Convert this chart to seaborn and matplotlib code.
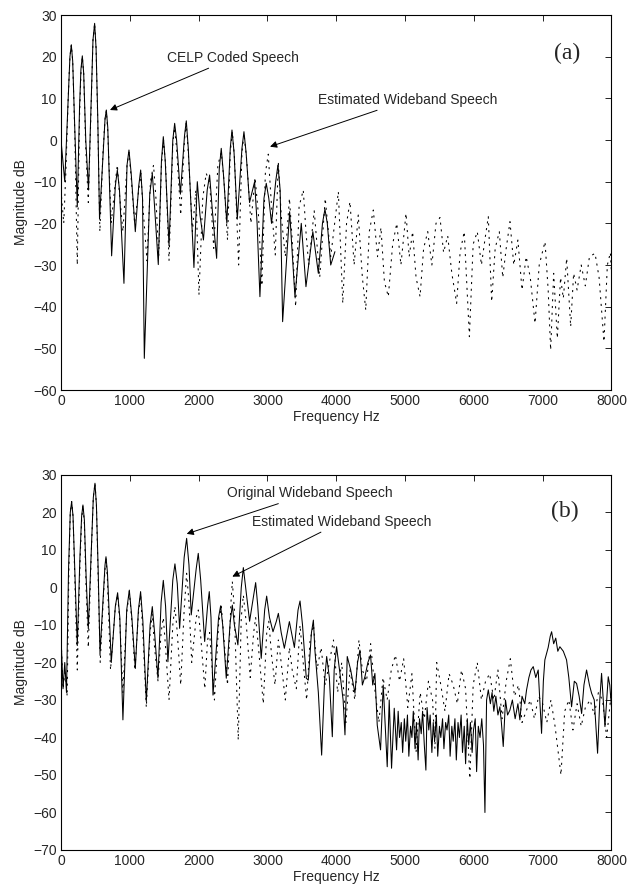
import pandas as pd
import seaborn as sns
import matplotlib.pyplot as plt

# ---- (a) CELP coded speech (solid) ----
celp_f = [0, 55, 105, 130, 150, 170, 200, 237, 270, 290, 310, 330, 360, 400, 440, 465, 489, 510, 535, 560,
          610, 640, 659, 680, 736, 790, 819, 850, 915, 960, 988, 1020, 1080, 1130, 1158, 1185, 1211, 1290,
          1327, 1360, 1414, 1460, 1487, 1515, 1570, 1625, 1652, 1680, 1735, 1795, 1821, 1850, 1932, 1981,
          2020, 2070, 2125, 2160, 2200, 2262, 2300, 2329, 2360, 2410, 2460, 2485, 2515, 2562, 2630, 2659,
          2690, 2740, 2814, 2850, 2891, 2950, 2983, 3020, 3060, 3120, 3153, 3185, 3221, 3323, 3400, 3492,
          3560, 3660, 3740, 3800, 3836, 3870, 3920, 3981]
celp_db = [0, -10, 10, 20, 22.8, 19, 3, -16, 8, 17, 20.2, 16, 0, -12, 10, 24, 28, 22, 5, -19,
           -4, 5, 7.2, 3, -27.8, -11, -7.2, -12, -34.4, -6, -2.4, -8, -22, -11, -7.2, -14, -52.4, -13,
           -8, -16, -29.9, -5, 0.8, -5, -25.4, 0, 4, 0, -13, 1, 4.6, -2, -30.6, -10,
           -18, -24, -12, -8.4, -17, -28.4, -7, -2, -8, -20, -2, 2.4, -3, -19, -2, 2,
           -3, -15, -10, -20, -37.6, -14, -10.4, -14, -20, -10, -6, -12, -43.6, -17.2, -37.6, -20,
           -35.2, -22, -32, -20, -16.6, -20, -30, -26.8]

# ---- (a) estimated wideband speech (dashed) ----
est_a_f = [0, 40, 70, 105, 130, 150, 170, 200, 237, 270, 290, 310, 330, 360, 397, 440, 465, 489, 510, 535,
           565, 610, 640, 659, 680, 730, 790, 819, 850, 900, 960, 988, 1020, 1070, 1130, 1160, 1200, 1250,
           1300, 1345, 1380, 1420, 1460, 1490, 1520, 1570, 1625, 1650, 1680, 1740, 1795, 1820, 1850, 1910,
           1960, 2005, 2060, 2110, 2160, 2220, 2280, 2330, 2370, 2420, 2460, 2490, 2520, 2582, 2630, 2660,
           2700, 2760, 2820, 2870, 2920, 2970, 3012, 3060, 3114, 3158, 3200, 3260, 3320, 3360, 3410, 3460,
           3521, 3560, 3600, 3680, 3760, 3840, 3920, 4031, 4095, 4150, 4200, 4260, 4320, 4380, 4429, 4480,
           4539, 4600, 4650, 4700, 4757, 4820, 4880, 4940, 5014, 5060, 5110, 5160, 5218, 5270, 5330, 5390,
           5450, 5508, 5560, 5620, 5680, 5750, 5800, 5860, 5935, 5990, 6050, 6110, 6160, 6210, 6259, 6310,
           6370, 6420, 6470, 6525, 6580, 6640, 6700, 6760, 6820, 6889, 6950, 7034, 7080, 7116, 7160, 7213,
           7260, 7300, 7349, 7407, 7450, 7500, 7560, 7620, 7680, 7761, 7820, 7891, 7940, 7984, 8000]
est_a_db = [-12, -20, -8, 10, 20, 22.8, 19, 2, -30, 6, 16, 20, 16, -2, -15, 9, 24, 28, 22, 4,
            -22, -3, 5, 7, 2, -20, -10, -6, -13, -22, -6, -3, -9, -20, -12, -8, -18, -29,
            -10, -6, -14, -28, -6, 0, -6, -29, -1, 3, -2, -18, 0, 4, -3, -22,
            -12, -37.2, -14, -8, -10, -26, -6, -3, -10, -24, -3, 2, -4, -30, -3, 1.5,
            -5, -20, -9, -18, -35, -8, -3.4, -16, -27.6, -5.2, -18, -28, -14, -24, -40, -16,
            -12, -22, -30, -17, -33, -14, -28, -12.4, -39.2, -20, -14.8, -30, -18, -33, -40.8, -22,
            -16.8, -28, -21, -34, -37.6, -25, -20, -30, -17.6, -28, -22, -33, -37.6, -26, -22, -30,
            -20, -18.6, -27, -23, -32, -39.2, -27, -22, -47.2, -25, -22, -30, -24, -18.4, -38.8, -26,
            -22, -33, -26, -19.6, -30, -24, -36, -28, -33, -44, -30, -24.4, -36, -50.4, -32, -47.6,
            -33, -38, -28.4, -44.8, -32, -36, -30, -35, -28, -27.2, -33, -48.4, -30, -27, -32]

# ---- (b) original wideband speech (solid) ----
orig_f = [0, 30, 55, 80, 110, 135, 155, 175, 205, 237, 275, 300, 319, 340, 365, 397, 440, 470, 494, 515,
          540, 567, 615, 640, 654, 675, 731, 790, 823, 855, 900, 955, 993, 1030, 1080, 1125, 1157, 1190,
          1240, 1295, 1327, 1360, 1409, 1455, 1487, 1520, 1554, 1625, 1656, 1690, 1724, 1790, 1826, 1860,
          1893, 1965, 1995, 2030, 2088, 2130, 2155, 2180, 2209, 2290, 2320, 2350, 2402, 2460, 2490, 2520,
          2571, 2620, 2650, 2690, 2741, 2800, 2829, 2860, 2910, 2960, 2989, 3030, 3081, 3130, 3159, 3200,
          3246, 3290, 3319, 3360, 3392, 3445, 3474, 3510, 3565, 3594, 3640, 3668, 3690, 3740, 3788, 3830,
          3861, 3900, 3943, 3970, 4005, 4054, 4100, 4127, 4160, 4210, 4272, 4310, 4344, 4380, 4417, 4460,
          4499, 4530, 4562, 4596, 4644, 4683, 4741, 4770, 4804, 4843, 4877,
          4900, 4920, 4945, 4965, 4990, 5010, 5035, 5055, 5080, 5100, 5120, 5145, 5165, 5190, 5210, 5235,
          5255, 5280, 5303, 5320, 5345, 5365, 5390, 5410, 5430, 5455, 5475, 5500, 5520, 5545, 5565, 5590,
          5610, 5635, 5655, 5680, 5700, 5725, 5745, 5770, 5790, 5815, 5835, 5860, 5880, 5905, 5925, 5950,
          5975, 5995, 6020, 6040, 6065, 6090, 6115, 6140, 6161, 6185, 6210, 6240, 6265, 6290, 6320, 6350,
          6378, 6400, 6427, 6460, 6490, 6524, 6560, 6600, 6640, 6669, 6700, 6740, 6766, 6800, 6830, 6863,
          6900, 6935, 6984, 7010, 7032, 7080, 7110, 7130, 7160, 7190, 7220, 7250, 7300, 7347, 7380, 7420,
          7460, 7493, 7530, 7566, 7600, 7638, 7680, 7711, 7750, 7798, 7830, 7856, 7905, 7953, 7975, 8000]
orig_db = [-13, -27, -20, -28, 5, 20, 22.9, 19, 2, -15.5, 8, 19, 22, 18, 3, -11, 10, 24, 27.8, 22,
           5, -17.6, -2, 6, 8.2, 4, -20, -5, -1.4, -8, -35.3, -6, -0.7, -8, -21.6, -6, -1.1, -9,
           -30.4, -10, -5.1, -12, -24.2, -4, 1.9, -5, -19.8, 2, 6.3, 1, -10.9, 8, 13.1, 6,
           -7.3, 5, 9.1, 2, -14.4, -5, -1.1, -8, -28.7, -8, -4.9, -10, -24.2, -9, -4.7, -10,
           -15.3, 0, 5.3, -1, -9, -2, 1.3, -5, -18.9, -6, -2.3, -8, -11.8, -9, -6.9, -12,
           -16.2, -12, -9.1, -13, -16, -6, -3.6, -10, -24.2, -24.7, -12, -8.7, -16.7, -28, -44.7, -25,
           -18.4, -24, -39.8, -22, -15.8, -22.9, -30, -39.3, -18.4, -22, -28.2, -20, -16.7, -26, -23.8, -20,
           -18, -26, -22.9, -36.7, -43.3, -26, -47.8, -30, -48.2, -32.2, -43.3,
           -33, -40, -36, -44, -35, -41, -34, -45, -37, -40, -33, -43, -36, -46, -35, -39,
           -33, -42, -48.7, -32, -38, -34, -44, -36, -41, -34, -45, -37, -40, -35, -43, -36,
           -38, -34, -45, -37, -41, -35, -46, -36, -40, -34, -44, -37, -47, -35, -42, -36,
           -44, -38, -35, -49.1, -37, -40, -35, -42, -60, -30, -27.3, -31, -28, -33, -29, -34,
           -31.8, -36, -42.4, -30, -34, -32.7, -30, -35, -31, -35.3, -29, -31, -27.3, -24, -22, -21.1,
           -24, -22, -38.9, -25, -19.3, -16, -13, -11.8, -15, -13.5, -17, -15.8, -17, -19.3, -24, -31.8,
           -25, -25.6, -29, -33.6, -26, -22, -26, -28.2, -30, -44.2, -30, -22.9, -37.1, -23.8, -26, -31.8]

# ---- (b) estimated wideband speech (dashed) ----
est_b_f = [0, 30, 60, 90, 115, 135, 155, 175, 205, 237, 275, 300, 319, 340, 365, 397, 440, 470, 494, 515,
           540, 570, 615, 640, 654, 675, 720, 790, 823, 855, 900, 955, 993, 1030, 1075, 1125, 1157, 1190,
           1240, 1295, 1327, 1360, 1410, 1455, 1487, 1520, 1570, 1625, 1656, 1690, 1740, 1790, 1826, 1860,
           1900, 1965, 1995, 2030, 2090, 2130, 2160, 2190, 2230, 2290, 2330, 2370, 2420, 2470, 2490, 2520,
           2576, 2620, 2650, 2690, 2750, 2800, 2829, 2870, 2940, 2990, 3020, 3060, 3110, 3159, 3200, 3260,
           3320, 3360, 3420, 3474, 3520, 3570, 3620, 3670, 3720, 3780, 3840, 3900, 3960, 4020, 4080, 4140,
           4200, 4270, 4330, 4380, 4440, 4500, 4560, 4620, 4680, 4740, 4800, 4860, 4920, 4980, 5040, 5100,
           5160, 5220, 5280, 5340, 5400, 5434, 5460, 5520, 5580, 5640, 5700, 5760, 5820, 5880, 5942, 5990,
           6050, 6110, 6170, 6230, 6290, 6350, 6410, 6470, 6530, 6590, 6650, 6700, 6760, 6820, 6880, 6940,
           7000, 7060, 7120, 7180, 7266, 7320, 7380, 7440, 7500, 7560, 7620, 7690, 7750, 7810, 7870, 7930,
           7980, 8000]
est_b_db = [-13, -27, -22, -29, 5, 20, 22.9, 19, 0, -22, 6, 18, 22, 17, 0, -16, 9, 24, 27.8, 22,
            3, -20, -3, 5, 8, 2, -22, -5, -2, -9, -28, -7, -1, -9, -22, -7, -2, -12,
            -32, -12, -7, -16, -25, -12, -8, -16, -30, -10, -5, -12, -26, -6, 3.8, -4,
            -20, -8, -6, -13, -27, -14, -12, -20, -30, -10, -5, -14, -26, -4, 1.6, -6,
            -40.7, -8, -2, -9, -24, -12, -8, -16, -31, -12, -9, -18, -26, -14, -20, -30,
            -16, -22, -27, -10, -20, -30, -14, -10, -22, -16, -26, -20, -14, -28, -20, -36,
            -22, -30, -14, -22, -25, -15, -27, -36, -24, -30, -22, -18, -25, -19, -32, -23,
            -44, -28, -35, -25, -30, -43, -20, -26, -33, -23, -26, -31, -22, -27, -51, -26,
            -20, -30, -25, -23, -30, -22, -35, -25, -19, -29, -26, -36, -33, -30, -35, -29,
            -31, -36, -30, -37, -50, -33, -30, -38, -31, -37, -32, -30, -34, -28, -30, -40,
            -31, -28]

xticks = list(range(0, 8001, 1000))
yticks_a = list(range(-60, 31, 10))
yticks_b = list(range(-70, 31, 10))

df_celp = pd.DataFrame({'f': celp_f, 'db': celp_db})
df_est_a = pd.DataFrame({'f': est_a_f, 'db': est_a_db})
df_orig = pd.DataFrame({'f': orig_f, 'db': orig_db})
df_est_b = pd.DataFrame({'f': est_b_f, 'db': est_b_db})

sns.set_style('white')
plt.rcParams['font.family'] = ['Liberation Sans', 'DejaVu Sans']
plt.rcParams['xtick.direction'] = 'in'
plt.rcParams['ytick.direction'] = 'in'
plt.rcParams['xtick.top'] = True
plt.rcParams['ytick.right'] = True

fig = plt.figure(figsize=(6.3, 8.88), dpi=100)
ax_a = fig.add_axes([0.0968, 0.5608, 0.8738, 0.4223])
ax_b = fig.add_axes([0.0968, 0.0428, 0.8738, 0.4223])


def desenha(ax, df_solid, df_dash):
    sns.lineplot(data=df_solid, x='f', y='db', sort=False, estimator=None,
                 color='black', linewidth=0.75, ax=ax)
    sns.lineplot(data=df_dash, x='f', y='db', sort=False, estimator=None,
                 color='black', linewidth=0.75, ax=ax)
    ax.get_lines()[-1].set_dashes([2, 4.5])


def eixos(ax, yticks):
    ax.set_xlim(0, 8000)
    ax.set_ylim(yticks[0], yticks[-1])
    ax.set_xticks(xticks)
    ax.set_yticks(yticks)
    ax.tick_params(axis='both', which='both', length=4, width=0.6, color='black',
                   labelsize=10, pad=3)
    for s in ax.spines.values():
        s.set_color('black')
        s.set_linewidth(0.8)
    ax.set_xlabel('Frequency Hz', fontsize=10, labelpad=1)
    ax.set_ylabel('Magnitude dB', fontsize=10, labelpad=4)


desenha(ax_a, df_celp, df_est_a)
eixos(ax_a, yticks_a)
desenha(ax_b, df_orig, df_est_b)
eixos(ax_b, yticks_b)

seta = dict(arrowstyle='-|>', color='black', lw=0.7, mutation_scale=10, shrinkA=0, shrinkB=0)

ax_a.annotate('CELP Coded Speech', xy=(712, 7.2), xytext=(1540, 19.7),
              fontsize=10, va='center', ha='left', arrowprops=seta)
ax_a.annotate('Estimated Wideband Speech', xy=(3038, -1.6), xytext=(3730, 9.6),
              fontsize=10, va='center', ha='left', arrowprops=seta)
ax_a.text(7350, 20.8, '(a)', fontsize=17, family='Liberation Serif', ha='center', va='center')

ax_b.annotate('Original Wideband Speech', xy=(1827, 14.3), xytext=(2408, 25.1),
              fontsize=10, va='center', ha='left', arrowprops=seta)
ax_b.annotate('Estimated Wideband Speech', xy=(2490, 2.9), xytext=(2772, 17.5),
              fontsize=10, va='center', ha='left', arrowprops=seta)
ax_b.text(7326, 20.2, '(b)', fontsize=17, family='Liberation Serif', ha='center', va='center')

plt.savefig('out.png', dpi=100)
